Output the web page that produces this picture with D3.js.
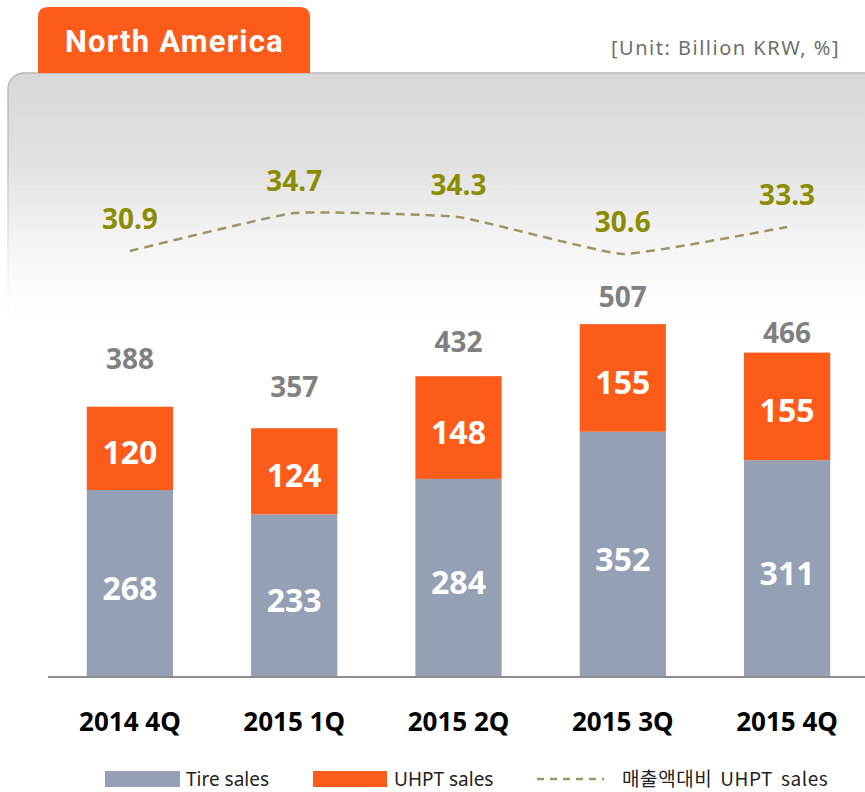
<!DOCTYPE html>
<html>
<head>
<meta charset="utf-8">
<script src="https://cdn.jsdelivr.net/npm/d3@7"></script>
<style>
  body { margin:0; background:#fff; }
  #canvas { width:865px; height:792px; }
  text { font-family: "Noto Sans", "Open Sans", sans-serif; }
</style>
</head>
<body>
<div id="canvas" class="canvas"></div>
<script>
// data
var quarters = ['2014 4Q','2015 1Q','2015 2Q','2015 3Q','2015 4Q'];
var tireSales = [268, 233, 284, 352, 311];
var uhptSales = [120, 124, 148, 155, 155];
var totals = [388, 357, 432, 507, 466];
var uhptRatio = [30.9, 34.7, 34.3, 30.6, 33.3];
var legendLabels = ['Tire sales', 'UHPT sales', '매출액대비 UHPT sales'];

var W = 865, H = 792;
var cGray = '#95a0b4', cOrange = '#fd5b19', cLine = '#a09464', cPct = '#8c8c00';

var svg = d3.select('.canvas').append('svg')
    .attr('width', W).attr('height', H);

// background panel gradient
var defs = svg.append('defs');
var grad = defs.append('linearGradient').attr('id','panelGrad')
    .attr('x1',0).attr('y1',0).attr('x2',0).attr('y2',1);
grad.append('stop').attr('offset','0%').attr('stop-color','#d8d8d8');
grad.append('stop').attr('offset','40%').attr('stop-color','#f0f0f0');
grad.append('stop').attr('offset','100%').attr('stop-color','#ffffff');
var sgrad = defs.append('linearGradient').attr('id','edgeGrad')
    .attr('x1',0).attr('y1',0).attr('x2',0).attr('y2',1);
sgrad.append('stop').attr('offset','0%').attr('stop-color','#b8b8b8');
sgrad.append('stop').attr('offset','100%').attr('stop-color','#ffffff');

svg.append('rect')
    .attr('x',8).attr('y',73).attr('width',880).attr('height',560)
    .attr('rx',16)
    .attr('fill','url(#panelGrad)')
    .attr('stroke','url(#edgeGrad)').attr('stroke-width',1.5);
// fade panel below to white
var fade = defs.append('linearGradient').attr('id','fadeGrad')
    .attr('x1',0).attr('y1',0).attr('x2',0).attr('y2',1);
fade.append('stop').attr('offset','0%').attr('stop-color','#fff').attr('stop-opacity',0);
fade.append('stop').attr('offset','100%').attr('stop-color','#fff').attr('stop-opacity',1);
svg.append('rect').attr('x',0).attr('y',170).attr('width',W).attr('height',150)
    .attr('fill','url(#fadeGrad)');
svg.append('rect').attr('x',0).attr('y',320).attr('width',W).attr('height',400)
    .attr('fill','#fff');

// title tab
svg.append('path')
    .attr('d','M38,73 V17 Q38,7 48,7 H300 Q310,7 310,17 V73 Z')
    .attr('fill', cOrange);
svg.append('text').attr('x',65).attr('y',52)
    .attr('fill','#fff').attr('font-size',31).attr('font-weight','bold')
    .attr('letter-spacing',1.2)
    .style('font-family','Roboto, "Noto Sans", sans-serif')
    .text('North America');
svg.append('text').attr('x',840).attr('y',55)
    .attr('text-anchor','end').attr('fill','#6e6e6e').attr('font-size',20)
    .attr('letter-spacing',1.5)
    .text('[Unit: Billion KRW, %]');

// scales
var x = d3.scaleBand().domain(quarters).range([49, 868]).paddingInner(0.475).paddingOuter(0.23);
var baseY = 676;
var y = d3.scaleLinear().domain([0, 100]).range([baseY, baseY - 69.4]);
var yr = d3.scaleLinear().domain([30, 35]).range([260, 210]);

var plot = svg.append('g');

// stacked bars
var stackData = quarters.map(function(q, i){ return {q:q, i:i, tire:tireSales[i], uhpt:uhptSales[i], total:totals[i]}; });

plot.selectAll('.tire').data(stackData).enter().append('rect')
    .attr('class','tire')
    .attr('x', function(d){ return x(d.q); })
    .attr('width', x.bandwidth())
    .attr('y', function(d){ return y(d.tire); })
    .attr('height', function(d){ return baseY - y(d.tire); })
    .attr('fill', cGray);

plot.selectAll('.uhpt').data(stackData).enter().append('rect')
    .attr('class','uhpt')
    .attr('x', function(d){ return x(d.q); })
    .attr('width', x.bandwidth())
    .attr('y', function(d){ return y(d.tire + d.uhpt); })
    .attr('height', function(d){ return y(d.tire) - y(d.tire + d.uhpt); })
    .attr('fill', cOrange);

// bar value labels
plot.selectAll('.tireLbl').data(stackData).enter().append('text')
    .attr('x', function(d){ return x(d.q) + x.bandwidth()/2; })
    .attr('y', function(d){ return (y(d.tire) + baseY)/2 + 17; })
    .attr('text-anchor','middle').attr('fill','#fff')
    .attr('font-size',32).attr('font-weight','bold')
    .text(function(d){ return d.tire; });

plot.selectAll('.uhptLbl').data(stackData).enter().append('text')
    .attr('x', function(d){ return x(d.q) + x.bandwidth()/2; })
    .attr('y', function(d){ return (y(d.tire) + y(d.tire + d.uhpt))/2 + 16; })
    .attr('text-anchor','middle').attr('fill','#fff')
    .attr('font-size',32).attr('font-weight','bold')
    .text(function(d){ return d.uhpt; });

// total labels (placed a bit closer to the bar further right, like the original)
plot.selectAll('.totLbl').data(stackData).enter().append('text')
    .attr('x', function(d){ return x(d.q) + x.bandwidth()/2; })
    .attr('y', function(d){ return y(d.total) - 38 + 7 * d.i; })
    .attr('text-anchor','middle').attr('fill','#808080')
    .attr('font-size',28).attr('font-weight','bold')
    .text(function(d){ return d.total; });

// axis line
svg.append('line').attr('x1',48).attr('x2',W).attr('y1',baseY+1).attr('y2',baseY+1)
    .attr('stroke','#8c8c8c').attr('stroke-width',2);

// category labels
var axisX = d3.axisBottom(x).tickSize(0).tickPadding(37);
var gx = svg.append('g').attr('transform','translate(0,' + baseY + ')').call(axisX);
gx.select('.domain').remove();
gx.selectAll('text')
    .attr('fill','#000').attr('font-size',26).attr('font-weight','bold')
    .style('font-family','"Noto Sans", sans-serif');

// ratio line
var line = d3.line()
    .x(function(d, i){ return x(quarters[i]) + x.bandwidth()/2; })
    .y(function(d){ return yr(d); })
    .curve(d3.curveCardinal.tension(0.65));
svg.append('path').datum(uhptRatio)
    .attr('d', line)
    .attr('fill','none').attr('stroke', cLine).attr('stroke-width',2.5)
    .attr('stroke-dasharray','9,6');

svg.selectAll('.pctLbl').data(uhptRatio).enter().append('text')
    .attr('x', function(d, i){ return x(quarters[i]) + x.bandwidth()/2; })
    .attr('y', function(d){ return yr(d) - 22; })
    .attr('text-anchor','middle').attr('fill', cPct)
    .attr('font-size',28).attr('font-weight','bold')
    .text(function(d){ return d.toFixed(1); });

// legend
var lg = svg.append('g').attr('transform','translate(0,779)');
lg.append('rect').attr('x',105).attr('y',-8).attr('width',75).attr('height',16).attr('fill',cGray);
lg.append('text').attr('x',186).attr('y',7).attr('font-size',19).attr('fill','#222').text(legendLabels[0]);
lg.append('rect').attr('x',313).attr('y',-8).attr('width',74).attr('height',16).attr('fill',cOrange);
lg.append('text').attr('x',394).attr('y',7).attr('font-size',19).attr('fill','#222').text(legendLabels[1]);
lg.append('line').attr('x1',537).attr('x2',604).attr('y1',0).attr('y2',0)
    .attr('stroke',cLine).attr('stroke-width',2.5).attr('stroke-dasharray','7,6');
lg.append('text').attr('x',622).attr('y',7).attr('font-size',19).attr('fill','#222')
    .attr('letter-spacing',0.6).attr('word-spacing',3)
    .style('font-family','"Noto Sans CJK KR", "Noto Sans", sans-serif')
    .text(legendLabels[2]);
</script>
</body>
</html>
